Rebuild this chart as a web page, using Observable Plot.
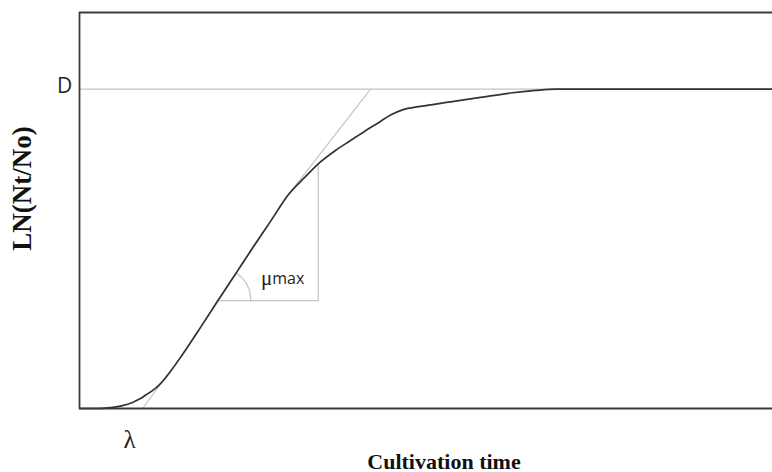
<!DOCTYPE html>
<html>
<head>
<meta charset="utf-8">
<script src="https://cdn.jsdelivr.net/npm/d3@7"></script>
<script src="https://cdn.jsdelivr.net/npm/@observablehq/plot@0.6"></script>
<style>
  html, body { margin: 0; padding: 0; background: #fff; }
  svg { display: block; }
</style>
</head>
<body>
<div id="chart"></div>
<script>
// Growth curve: cultivation time vs LN(Nt/No)
const time = [0, 2.54, 4.92, 6.83, 8.41, 9.68, 10.63, 11.59, 12.86, 14.44, 16.35, 19.21, 21.90, 25.08, 27.62, 30.32, 33.17, 35.87, 38.25, 40.63, 43.02, 45.40, 47.46, 49.37, 51.27, 54.13, 58.89, 63.65, 68.41, 72.38, 75.56, 110];
const lnN  = [0, 0, 0.03, 0.09, 0.19, 0.31, 0.44, 0.56, 0.78, 1.16, 1.69, 2.54, 3.36, 4.31, 5.07, 5.86, 6.70, 7.26, 7.72, 8.08, 8.39, 8.70, 8.95, 9.19, 9.35, 9.46, 9.60, 9.74, 9.88, 9.96, 10, 10];

const D = 10;          // asymptote
const lambda = 10;     // lag time
// tangent (μmax line) drawn through λ, touching the curve, up to D
const tangentTime = [10, 16.35, 33.17, 46.2];
const tangentLn   = [0, 1.69, 6.70, 10];
const triStartTime = 21.9, triEndTime = 37.9, triBase = 3.38, triTop = 7.68;
const arcTime = [24.87, 25.98, 26.90, 27.22];
const arcLn   = [4.25, 4.05, 3.74, 3.38];
const xMax = 110, yMax = 12.4;

const curve = time.map((t, i) => ({t, v: lnN[i]}));
const tangent = tangentTime.map((t, i) => ({t, v: tangentLn[i]}));
const arc = arcTime.map((t, i) => ({t, v: arcLn[i]}));

const frameColor = "#3a3a3a";
const grey = "#c4c4c4";

const chart = Plot.plot({
  width: 772,
  height: 472,
  marginLeft: 79,
  marginRight: 0,
  marginTop: 12,
  marginBottom: 64,
  x: {domain: [0, xMax], axis: null},
  y: {domain: [0, yMax], axis: null},
  marks: [
    // D line
    Plot.ruleY([D], {stroke: grey, strokeWidth: 1.3}),
    // tangent
    Plot.line(tangent, {x: "t", y: "v", stroke: grey, strokeWidth: 1.2}),
    // triangle
    Plot.line([{t: triStartTime, v: triBase}, {t: triEndTime, v: triBase}, {t: triEndTime, v: triTop}], {x: "t", y: "v", stroke: grey, strokeWidth: 1.2}),
    Plot.line(arc, {x: "t", y: "v", stroke: grey, strokeWidth: 1.2, curve: "natural"}),
    // growth curve
    Plot.line(curve, {x: "t", y: "v", stroke: "#333", strokeWidth: 1.7, curve: "monotone-x"}),
    // frame
    Plot.ruleY([0], {stroke: frameColor, strokeWidth: 1.8}),
    Plot.ruleY([yMax], {stroke: frameColor, strokeWidth: 1.8}),
    Plot.ruleX([0], {stroke: frameColor, strokeWidth: 1.8}),
    // labels
    Plot.text(["D"], {x: 0, y: D, dx: -15, dy: -3, fontSize: 21, fontFamily: "Open Sans, sans-serif", fill: "#222"}),
    Plot.text(["λ"], {x: lambda, y: 0, dx: -13, dy: 31, fontSize: 25, fontFamily: "Liberation Serif, serif", fill: "#222"}),
    Plot.text(["μ"], {x: 28.8, y: 4.07, textAnchor: "start", fontSize: 21, fontFamily: "Liberation Serif, serif", fill: "#222"}),
    Plot.text(["max"], {x: 30.6, y: 4.07, textAnchor: "start", fontSize: 16, fontFamily: "Open Sans, sans-serif", fill: "#222"}),
    Plot.text(["Cultivation time"], {frameAnchor: "bottom", textAnchor: "middle", dx: 18, dy: 60, fontSize: 22, fontWeight: "bold", fontFamily: "Liberation Serif, Times New Roman, serif", fill: "#111"}),
    Plot.text(["LN(Nt/No)"], {frameAnchor: "left", textAnchor: "middle", lineAnchor: "middle", rotate: -90, dx: -57, dy: -22, fontSize: 27, fontWeight: "bold", fontFamily: "Liberation Serif, Times New Roman, serif", fill: "#111"})
  ]
});
document.getElementById("chart").appendChild(chart);
</script>
</body>
</html>
